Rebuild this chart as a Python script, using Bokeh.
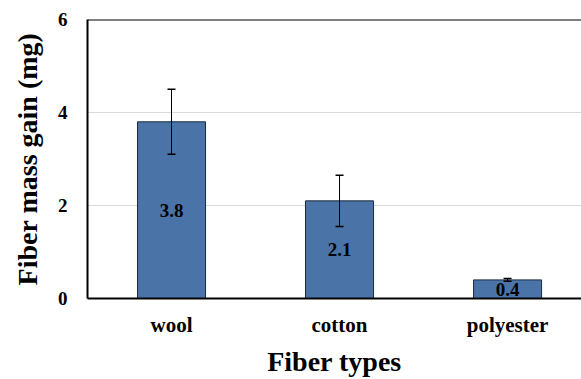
from bokeh.plotting import figure
from bokeh.models import ColumnDataSource, Whisker, TeeHead, Span, Range1d, FixedTicker, LabelSet
from bokeh.embed import file_html
from bokeh.resources import INLINE

categories = ["wool", "cotton", "polyester"]
values = [3.8, 2.1, 0.4]
errors = [0.7, 0.55, 0.03]
value_labels = ["3.8", "2.1", "0.4"]
y_ticks = [0, 2, 4, 6]

FONT = "Liberation Serif"
xs = list(range(len(categories)))
src = ColumnDataSource(dict(
    x=xs, top=values,
    upper=[v + e for v, e in zip(values, errors)],
    lower=[v - e for v, e in zip(values, errors)],
    mid=[v / 2 for v in values],
    lab=value_labels,
))

p = figure(frame_width=494, frame_height=279, output_backend="svg", toolbar_location=None,
           x_range=Range1d(-0.5, 2.44), y_range=Range1d(0, 6),
           min_border_left=87, min_border_top=19, min_border_right=0, min_border_bottom=0)
p.outline_line_color = None
p.background_fill_color = "white"
p.border_fill_color = "white"

p.vbar(x="x", top="top", width=0.405, bottom=0, source=src,
       fill_color="#4A73A8", line_color="#1c2a3c", line_width=1)

w = Whisker(base="x", upper="upper", lower="lower", source=src, level="annotation",
            line_color="black", line_width=1,
            upper_head=TeeHead(size=8, line_color="black", line_width=1.5),
            lower_head=TeeHead(size=8, line_color="black", line_width=1.5))
p.add_layout(w)

labels = LabelSet(x="x", y="mid", text="lab", source=src, text_align="center",
                  text_baseline="middle", text_font=FONT, text_font_style="bold",
                  text_font_size="19px", text_color="black")
p.add_layout(labels)

p.add_layout(Span(location=6, dimension="width", line_color="black", line_width=2))

p.xgrid.visible = False
p.ygrid.ticker = FixedTicker(ticks=y_ticks)
p.ygrid.grid_line_color = "#d9d9d9"
p.ygrid.grid_line_width = 1

p.xaxis.ticker = FixedTicker(ticks=xs)
p.xaxis.major_label_overrides = {i: c for i, c in zip(xs, categories)}
p.yaxis.ticker = FixedTicker(ticks=y_ticks)

for ax in (p.xaxis[0], p.yaxis[0]):
    ax.axis_line_color = "black"
    ax.axis_line_width = 2
    ax.major_tick_line_color = None
    ax.minor_tick_line_color = None
    ax.major_tick_out = 0
    ax.major_tick_in = 0
    ax.major_label_text_font = FONT
    ax.major_label_text_font_style = "bold"
    ax.major_label_text_color = "black"
    ax.axis_label_text_font = FONT
    ax.axis_label_text_font_style = "bold"
    ax.axis_label_text_color = "black"
    ax.axis_label_text_font_size = "28px"

p.xaxis.major_label_text_font_size = "21px"
p.yaxis.major_label_text_font_size = "19px"
p.xaxis.axis_label = "Fiber types"
p.yaxis.axis_label = "Fiber mass gain (mg)"
p.xaxis.major_label_standoff = 14
p.xaxis.axis_label_standoff = 6
p.yaxis.major_label_standoff = 20
p.yaxis.axis_label_standoff = 12

open("out.html", "w").write(file_html(p, INLINE))
